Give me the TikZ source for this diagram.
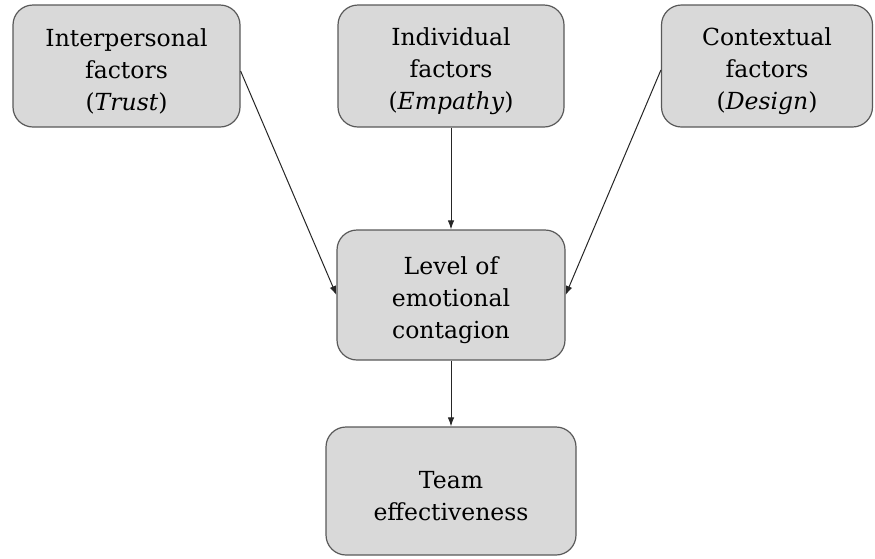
\documentclass[tikz,border=0pt]{standalone}
\usepackage{fontspec}
\setmainfont{DejaVu Serif}
\usepackage{xcolor}
\usepackage{tikz}
\usetikzlibrary{arrows.meta,calc,positioning}

\definecolor{boxfill}{HTML}{D9D9D9}
\definecolor{boxline}{HTML}{595959}
\newcommand{\padtop}{\rule{0pt}{1.2em}}

\begin{document}
\begin{tikzpicture}[x=1pt,y=-1pt,>={Latex[length=9pt,width=6.5pt]},
  factor/.style={draw=boxline,fill=boxfill,line width=1.2pt,rounded corners=20pt,
    align=center,inner sep=0pt,minimum height=122pt,
    font=\fontsize{23.5}{32}\selectfont},
  link/.style={->,line width=1pt,draw=black!85}]
\useasboundingbox (0,0) rectangle (875,558);
\node[factor,minimum width=227pt] (inter) at (126.5,66) {\padtop Interpersonal\\factors\\(\textit{Trust})};
\node[factor,minimum width=226pt] (indiv) at (451,66) {\padtop Individual\\factors\\(\textit{Empathy})};
\node[factor,minimum width=211pt] (context) at (767,66) {\padtop Contextual\\factors\\(\textit{Design})};
\node[factor,minimum width=228pt,minimum height=130pt] (level) at (451,295) {\padtop Level of\\emotional\\contagion};
\node[factor,minimum width=250pt,minimum height=128pt] (team) at (451,491) {\padtop Team\\effectiveness};
\draw[link] ([yshift=-5pt]inter.east) -- (level.west);
\draw[link] (indiv.south) -- (level.north);
\draw[link] ([yshift=-4pt]context.west) -- (level.east);
\draw[link] (level.south) -- (team.north);
\end{tikzpicture}
\end{document}
